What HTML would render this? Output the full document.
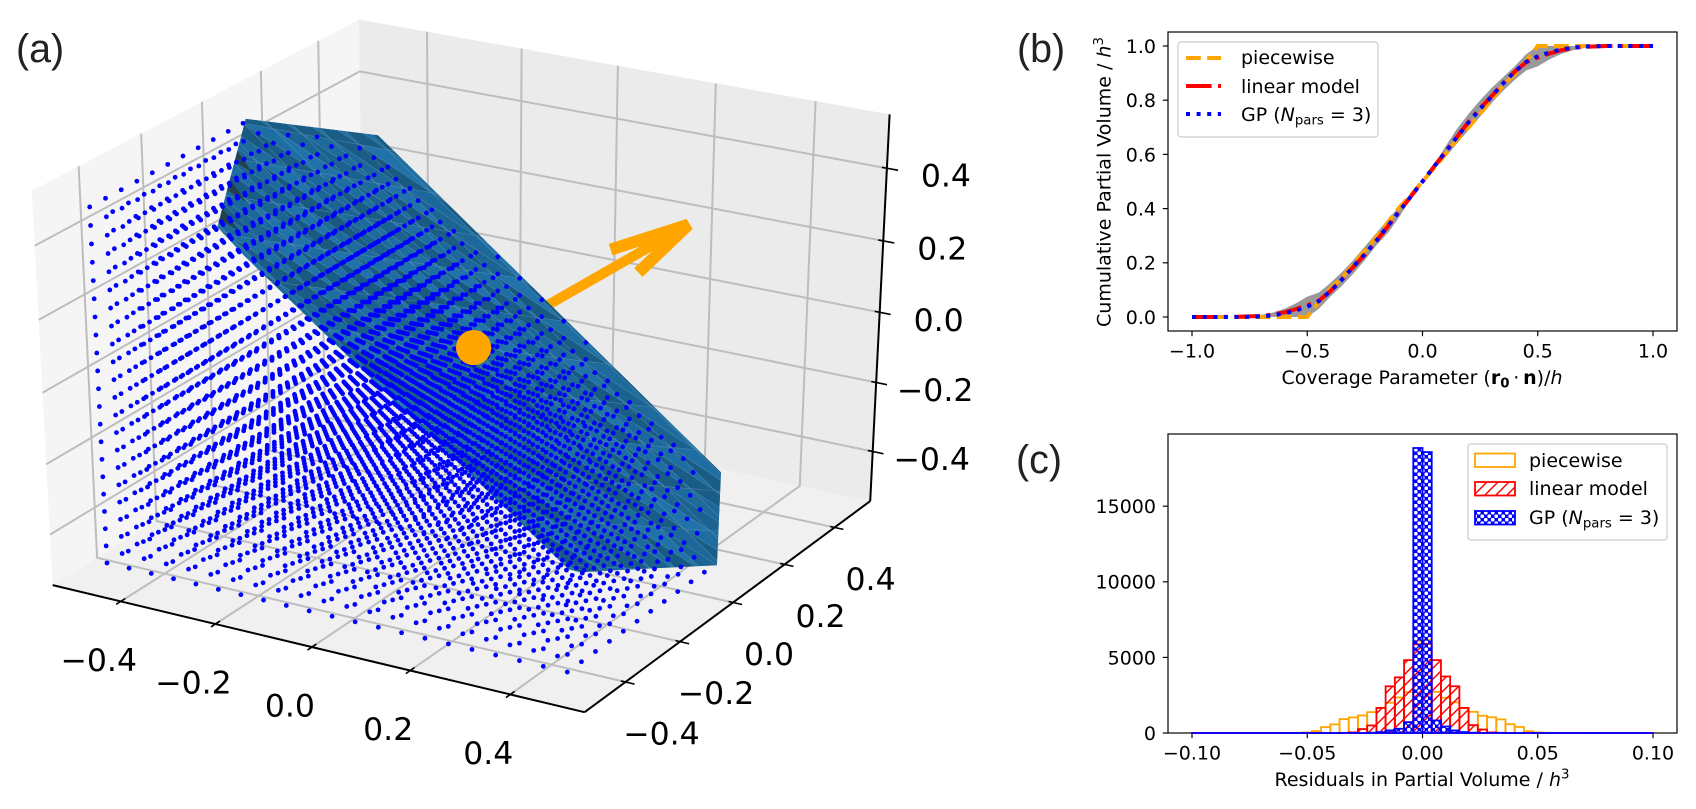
<!DOCTYPE html>
<html lang="en">
<head>
<meta charset="utf-8">
<title>Partial volume figure</title>
<style>
html,body{margin:0;padding:0;background:#fff;}
svg{display:block;}
text{font-family:"DejaVu Sans","Liberation Sans",sans-serif;fill:#000;}
.panel-label{font-family:"Liberation Sans",sans-serif;font-size:39.4px;fill:#222;}
.lab{font-size:19px;}
.leg{font-size:19px;}
</style>
</head>
<body>
<svg id="fig" xmlns="http://www.w3.org/2000/svg" width="1696" height="809" viewBox="0 0 1696 809">
  <defs>
    <pattern id="hatch-red" patternUnits="userSpaceOnUse" width="11" height="11">
      <path d="M-2,13 L13,-2 M-2,2 L2,-2 M9,13 L13,9" stroke="#ff0000" stroke-width="1.5" fill="none"/>
    </pattern>
    <pattern id="hatch-blue" patternUnits="userSpaceOnUse" width="7" height="7">
      <path fill="#0000ff" fill-rule="evenodd" d="M0,0H7V7H0Z M3.65,1.75a1.9,1.9 0 1,0 -3.8,0a1.9,1.9 0 1,0 3.8,0Z M7.15,5.25a1.9,1.9 0 1,0 -3.8,0a1.9,1.9 0 1,0 3.8,0Z"/>
    </pattern>
    <clipPath id="surface-clip"><polygon id="surface-clip-poly" points="0,0"/></clipPath>
  </defs>
  <rect width="1696" height="809" fill="#fff"/>
  <g id="panel-a"></g>
  <g id="panel-b"></g>
  <g id="panel-c"></g>

  <text class="panel-label" x="16" y="62">(a)</text>
  <text class="panel-label" x="1017" y="62">(b)</text>
  <text class="panel-label" x="1016" y="473">(c)</text>

  <text class="lab" x="1422" y="384" text-anchor="middle">Coverage Parameter (<tspan font-weight="bold">r</tspan><tspan font-weight="bold" font-size="13.3" dy="3.5">0</tspan><tspan dy="-3.5">&#8201;·&#8201;</tspan><tspan font-weight="bold">n</tspan>)/<tspan font-style="italic">h</tspan></text>
  <text class="lab" x="1110.6" y="182" text-anchor="middle" transform="rotate(-90 1110.6 182)">Cumulative Partial Volume / <tspan font-style="italic">h</tspan><tspan font-size="13.3" dy="-7.5">3</tspan></text>
  <text class="lab" x="1422" y="786" text-anchor="middle">Residuals in Partial Volume / <tspan font-style="italic">h</tspan><tspan font-size="13.3" dy="-7.5">3</tspan></text>

  <g id="legend-b">
    <rect x="1178" y="42" width="200" height="95" rx="3" fill="#fff" fill-opacity="0.8" stroke="#cccccc" stroke-width="1.2"/>
    <line x1="1186" y1="58" x2="1221" y2="58" stroke="#ffa500" stroke-width="4" stroke-dasharray="14.8 6.4"/>
    <text class="leg" x="1241" y="64">piecewise</text>
    <line x1="1186" y1="86" x2="1221" y2="86" stroke="#ff0000" stroke-width="4" stroke-dasharray="25.6 6.4 4 6.4"/>
    <text class="leg" x="1241" y="93">linear model</text>
    <line x1="1186" y1="114" x2="1221" y2="114" stroke="#0000ff" stroke-width="4" stroke-dasharray="4 6.6"/>
    <text class="leg" x="1241" y="121">GP (<tspan font-style="italic">N</tspan><tspan font-size="13.3" dy="3.5">pars</tspan><tspan dy="-3.5"> = 3)</tspan></text>
  </g>

  <g id="legend-c">
    <rect x="1468" y="444" width="199" height="96" rx="3" fill="#fff" fill-opacity="0.8" stroke="#cccccc" stroke-width="1.2"/>
    <rect x="1475" y="453.5" width="40" height="13.5" fill="none" stroke="#ffa500" stroke-width="1.8"/>
    <text class="leg" x="1529" y="467">piecewise</text>
    <rect x="1475" y="482" width="40" height="13.5" fill="url(#hatch-red)" stroke="#ff0000" stroke-width="1.8"/>
    <text class="leg" x="1529" y="495">linear model</text>
    <rect x="1475" y="511" width="40" height="13.5" fill="url(#hatch-blue)" stroke="#0000ff" stroke-width="1.8"/>
    <text class="leg" x="1529" y="524">GP (<tspan font-style="italic">N</tspan><tspan font-size="13.3" dy="3.5">pars</tspan><tspan dy="-3.5"> = 3)</tspan></text>
  </g>
</svg>

<script>
/* ---------- panel (a) data ---------- */
const latticeCoords = [-0.47619,-0.42857,-0.38095,-0.33333,-0.28571,-0.2381,-0.19048,-0.14286,-0.09524,-0.04762,0,0.04762,0.09524,0.14286,0.19048,0.2381,0.28571,0.33333,0.38095,0.42857,0.47619];
const planeNormal = [1, 0.6, 1];
const arrowVector = [0.315, 0.205, 0.31];
const surfaceOutlineXY = [[-0.489,0.028],[-0.5115,0.499],[0.24,0.484],[0.459,0.077],[0.484,-0.36],[0.49,-0.46],[0.485,-0.49],[-0.145,-0.498],[-0.206,-0.488]];
const notchFractions = [0.36,0.62,0.88];
const axisTicks3d = [-0.4,-0.2,0,0.2,0.4];
const axisTickLabels3d = ["\u22120.4","\u22120.2","0.0","0.2","0.4"];
const facetShades = ["#1f6ea2","#1b6494","#1d6a9b","#195c86","#2072a8","#1b6290","#1d689a","#185a82"];

/* ---------- panel (b) data ---------- */
const coverageX = [-1,-0.9,-0.8,-0.7,-0.65,-0.6,-0.55,-0.5,-0.45,-0.4,-0.35,-0.3,-0.25,-0.2,-0.15,-0.1,-0.05,0,0.05,0.1,0.15,0.2,0.25,0.3,0.35,0.4,0.45,0.5,0.55,0.6,0.65,0.7,0.8,0.9,1];
const piecewiseY = [0,0,0,0,0,0,0,0,0.055,0.105,0.145,0.195,0.245,0.295,0.35,0.405,0.45,0.5,0.55,0.6,0.655,0.7,0.75,0.8,0.855,0.895,0.945,1,1,1,1,1,1,1,1];
const linearY = [0,0,0.001,0.004,0.009,0.017,0.029,0.043,0.06,0.095,0.138,0.185,0.23,0.28,0.335,0.39,0.445,0.5,0.555,0.61,0.665,0.72,0.77,0.815,0.862,0.905,0.94,0.957,0.972,0.984,0.992,0.997,1,1,1];
const gpY = [0,0,0,0.002,0.006,0.013,0.024,0.038,0.058,0.095,0.138,0.186,0.232,0.282,0.336,0.391,0.445,0.5,0.555,0.609,0.664,0.718,0.768,0.814,0.862,0.905,0.942,0.962,0.976,0.987,0.994,0.998,1,1,1];
const bandUpperY = [0,0,0.001,0.008,0.016,0.03,0.05,0.075,0.09,0.125,0.165,0.21,0.26,0.31,0.36,0.41,0.455,0.5,0.56,0.63,0.695,0.75,0.8,0.845,0.885,0.925,0.97,1,1,1,1,1,1,1,1];
const bandLowerY = [0,0,0,0,0,0,0,0,0.03,0.075,0.115,0.16,0.21,0.265,0.31,0.37,0.44,0.5,0.545,0.59,0.64,0.69,0.74,0.79,0.835,0.875,0.91,0.925,0.95,0.97,0.984,0.992,0.999,1,1];
const bTicksX = [-1,-0.5,0,0.5,1];
const bTickLabelsX = ["\u22121.0","\u22120.5","0.0","0.5","1.0"];
const bTicksY = [0,0.2,0.4,0.6,0.8,1];
const bTickLabelsY = ["0.0","0.2","0.4","0.6","0.8","1.0"];

/* ---------- panel (c) data ---------- */
const histBinStart = -0.1;
const histBinWidth = 0.004;
const piecewiseCounts = [0,0,0,0,0,0,0,0,0,0,10,15,40,130,390,570,920,1030,1160,1380,1660,2000,2350,2700,6100,6150,2720,2330,2020,1640,1400,1140,1040,900,580,400,120,40,15,5,0,0,0,0,0,0,0,0,0,0];
const linearCounts = [0,0,0,0,0,0,0,0,0,0,0,0,0,0,0,0,10,40,260,500,1660,3090,3680,4820,5870,5900,4820,3740,3090,1660,520,230,40,10,0,0,0,0,0,0,0,0,0,0,0,0,0,0,0,0];
const gpCounts = [0,0,0,0,0,0,0,0,0,0,0,0,0,0,0,0,0,0,0,20,60,170,280,720,18850,18580,830,430,170,60,20,0,0,0,0,0,0,0,0,0,0,0,0,0,0,0,0,0,0,0];
const cTicksX = [-0.1,-0.05,0,0.05,0.1];
const cTickLabelsX = ["\u22120.10","\u22120.05","0.00","0.05","0.10"];
const cTicksY = [0,5000,10000,15000];
const cTickLabelsY = ["0","5000","10000","15000"];

const NS = "http://www.w3.org/2000/svg";
function mk(tag, parent, attrs){
  const e = document.createElementNS(NS, tag);
  for (const k in attrs) e.setAttribute(k, attrs[k]);
  parent.appendChild(e);
  return e;
}
function fmt(p){ return p.map(q=>q[0].toFixed(2)+","+q[1].toFixed(2)).join(" "); }

/* ---------- 3D projections fitted to the reference ---------- */
const L = 0.546;
const E = 0.47619;
const frameCalib = [
 [-L,-L,-L,53,584],[L,-L,-L,583,712],[L,L,-L,868,499],[L,L,L,888,116],[-L,L,L,360,18],[-L,-L,L,32,193],
 [-0.4,-L,-L,120,602],[-0.2,-L,-L,215,624],[0,-L,-L,312,647],[0.2,-L,-L,409,671],[0.4,-L,-L,509,694],
 [L,-0.4,-L,628,682],[L,-0.2,-L,682,641],[L,0,-L,735,602],[L,0.2,-L,784,563],[L,0.4,-L,837,526],
 [L,L,-0.4,872,457],[L,L,-0.2,875,386],[L,L,0,880,314],[L,L,0.2,883,239],[L,L,0.4,888,164]
];
const latticeCalib = [
 [-E,-E,-E,107,563],[E,-E,-E,568,672],[-E,-E,E,89,207],[E,0,-E,703,572],[-E,0,E,243,123],[0,0,0,475,348]
];
function lsq(rows){
  const N = rows[0][0].length, A = [], B = [];
  for (let i=0;i<N;i++){ A.push(new Array(N).fill(0)); B.push(0); }
  rows.forEach(rw=>{
    const r=rw[0], v=rw[1];
    for (let i=0;i<N;i++){ B[i]+=r[i]*v; for (let j=0;j<N;j++) A[i][j]+=r[i]*r[j]; }
  });
  for (let i=0;i<N;i++){
    let m=i;
    for (let r=i+1;r<N;r++) if (Math.abs(A[r][i])>Math.abs(A[m][i])) m=r;
    [A[i],A[m]]=[A[m],A[i]]; [B[i],B[m]]=[B[m],B[i]];
    for (let r=i+1;r<N;r++){
      const f=A[r][i]/A[i][i];
      for (let j=i;j<N;j++) A[r][j]-=f*A[i][j];
      B[r]-=f*B[i];
    }
  }
  const s=new Array(N).fill(0);
  for (let i=N-1;i>=0;i--){
    let t=B[i];
    for (let j=i+1;j<N;j++) t-=A[i][j]*s[j];
    s[i]=t/A[i][i];
  }
  return s;
}
const PF = (function(){
  const rows=[];
  frameCalib.forEach(c=>{
    const [x,y,z,u,v]=c;
    rows.push([[x,y,z,1,0,0,0,0,-u*x,-u*y,-u*z],u]);
    rows.push([[0,0,0,0,x,y,z,1,-v*x,-v*y,-v*z],v]);
  });
  return lsq(rows);
})();
const PL = (function(){
  const ru=[], rv=[];
  latticeCalib.forEach(c=>{
    const [x,y,z,u,v]=c;
    const w=PF[8]*x+PF[9]*y+PF[10]*z+1;
    ru.push([[x,y,z,1],u*w]);
    rv.push([[x,y,z,1],v*w]);
  });
  return lsq(ru).concat(lsq(rv),[PF[8],PF[9],PF[10]]);
})();
function applyP(P,x,y,z){
  const w=P[8]*x+P[9]*y+P[10]*z+1;
  return [(P[0]*x+P[1]*y+P[2]*z+P[3])/w,(P[4]*x+P[5]*y+P[6]*z+P[7])/w];
}
const proj = (x,y,z)=>applyP(PF,x,y,z);
const projData = (x,y,z)=>applyP(PL,x,y,z);

/* ---------- panel (a) ---------- */
(function(){
  const g = document.getElementById("panel-a");
  const paneLeft = mk("polygon", g, {points:fmt([proj(-L,-L,-L),proj(-L,L,-L),proj(-L,L,L),proj(-L,-L,L)]),fill:"#f5f5f5"});
  
  
  const paneBack = mk("polygon", g, {points:fmt([proj(-L,L,-L),proj(L,L,-L),proj(L,L,L),proj(-L,L,L)]),fill:"#ebebeb"});
  
  
  const paneFloor = mk("polygon", g, {points:fmt([proj(-L,-L,-L),proj(L,-L,-L),proj(L,L,-L),proj(-L,L,-L)]),fill:"#f0f0f0"});
  
  

  const gridStyle = {fill:"none",stroke:"#bdbdbd","stroke-width":2};
  axisTicks3d.forEach(t=>{
    const a = mk("polyline", g, Object.assign({points:fmt([proj(t,-L,-L),proj(t,L,-L),proj(t,L,L)])},gridStyle));
    
    
    const b = mk("polyline", g, Object.assign({points:fmt([proj(L,t,-L),proj(-L,t,-L),proj(-L,t,L)])},gridStyle));
    
    
    const c = mk("polyline", g, Object.assign({points:fmt([proj(-L,-L,t),proj(-L,L,t),proj(L,L,t)])},gridStyle));
    
    
  });

  const axisStyle = {fill:"none",stroke:"#000","stroke-width":2};
  const ax = mk("polyline", g, Object.assign({points:fmt([proj(-L,-L,-L),proj(L,-L,-L)])},axisStyle));
  
  
  const ay = mk("polyline", g, Object.assign({points:fmt([proj(L,-L,-L),proj(L,L,-L)])},axisStyle));
  
  
  const az = mk("polyline", g, Object.assign({points:fmt([proj(L,L,-L),proj(L,L,L)])},axisStyle));
  
  

  const tickStyle = {fill:"none",stroke:"#000","stroke-width":1.6};
  const labelStyle = {"font-size":"31.5px","text-anchor":"middle"};
  axisTicks3d.forEach((t,i)=>{
    const xt = mk("polyline", g, Object.assign({points:fmt([proj(t,-L+0.015,-L),proj(t,-L-0.015,-L)])},tickStyle));
    
    
    const yt = mk("polyline", g, Object.assign({points:fmt([proj(L-0.009,t,-L),proj(L+0.018,t,-L)])},tickStyle));
    
    
    const zt = mk("polyline", g, Object.assign({points:fmt([proj(L-0.01,L,t),proj(L+0.022,L,t)])},tickStyle));
    
    

    const px = proj(t,-L,-L), py = proj(L,t,-L), pz = proj(L,L,t);
    const xl = mk("text", g, Object.assign({x:px[0]-22,y:px[1]+58+11.5},labelStyle));
    xl.textContent = axisTickLabels3d[i];
    
    
    const yl = mk("text", g, Object.assign({x:py[0]+36,y:py[1]+51+11.5},labelStyle));
    yl.textContent = axisTickLabels3d[i];
    
    
    const zl = mk("text", g, Object.assign({x:pz[0]+59,y:pz[1]+7+11.5},labelStyle));
    zl.textContent = axisTickLabels3d[i];
    
    
  });

  /* arrow along the plane normal (drawn below the surface) */
  const c0 = projData(0,0,0), tip = projData(arrowVector[0],arrowVector[1],arrowVector[2]);
  const dx = c0[0]-tip[0], dy = c0[1]-tip[1];
  function headEnd(deg,k){
    const r = deg*Math.PI/180;
    return [tip[0]+k*(dx*Math.cos(r)-dy*Math.sin(r)), tip[1]+k*(dx*Math.sin(r)+dy*Math.cos(r))];
  }
  const shaft = mk("polyline", g, {points:fmt([c0,tip]),fill:"none",stroke:"#ffa500","stroke-width":10});
  
  
  const head = mk("polyline", g, {points:fmt([headEnd(12,0.33),tip,headEnd(-14,0.28)]),fill:"none",stroke:"#ffa500","stroke-width":12,"stroke-linejoin":"bevel"});
  
  

  /* cutting plane surface */
  const [nx,ny,nz] = planeNormal;
  const zOn = (x,y)=>-(nx*x+ny*y)/nz;
  const pOn = (x,y)=>projData(x,y,zOn(x,y));
  const vp = surfaceOutlineXY.map(q=>pOn(q[0],q[1]));
  document.getElementById("surface-clip-poly").setAttribute("points",fmt(vp));

  const surf = mk("g", g, {"clip-path":"url(#surface-clip)"});
  
  
  mk("polygon", surf, {points:fmt(vp),fill:"#1b6391"});
  const step = 2*(latticeCoords[1]-latticeCoords[0]);
  const ext = [];
  for (let v=latticeCoords[0]-2*step; v<=latticeCoords[20]+2*step+1e-9; v+=step) ext.push(v);
  for (let i=0;i<ext.length-1;i++){
    for (let j=0;j<ext.length-1;j++){
      const x0=ext[i],x1=ext[i+1],y0=ext[j],y1=ext[j+1];
      const a=pOn(x0,y0),b=pOn(x1,y0),c=pOn(x1,y1),d=pOn(x0,y1);
      [[a,b,c],[a,c,d]].forEach((tri,k)=>{
        const shade=facetShades[(i*i*3+j*7+k*5+i*j)%facetShades.length];
        const f = mk("polygon", surf, {points:fmt(tri),fill:shade,stroke:"#8cb8d0","stroke-width":0.6,"stroke-opacity":0.3});
        
        
      });
    }
  }
  const e0 = surfaceOutlineXY[0], e1 = surfaceOutlineXY[surfaceOutlineXY.length-1];
  notchFractions.forEach(fr=>{
    const ex=e0[0]+fr*(e1[0]-e0[0]), ey=e0[1]+fr*(e1[1]-e0[1]);
    const tx=0.05*(e1[0]-e0[0]), ty=0.05*(e1[1]-e0[1]);
    const n = mk("polygon", surf, {points:fmt([pOn(ex-tx,ey-ty),pOn(ex+tx,ey+ty),pOn(ex+0.035,ey)]),fill:"#23424f"});
    
    
  });

  /* lattice points on the negative side of the plane */
  const pts = mk("g", g, {fill:"#0000ff"});
  
  
  latticeCoords.forEach(x=>latticeCoords.forEach(y=>latticeCoords.forEach(z=>{
    if (nx*x+ny*y+nz*z<=1e-9){
      const p = projData(x,y,z);
      const dot = mk("circle", pts, {cx:p[0].toFixed(2),cy:p[1].toFixed(2),r:2.4});
      
      
    }
  })));

  const centre = mk("circle", g, {cx:c0[0],cy:c0[1],r:17.6,fill:"#ffa500"});
  
  
})();

/* ---------- shared 2D axes ---------- */
function frame(g,left,top,right,bottom,sx,sy,tx,tlx,ty,tly,prefix){
  const tickY = bottom, tickX = left;
  tx.forEach((t,i)=>{
    const x = sx(t);
    const tk = mk("line", g, {x1:x,x2:x,y1:tickY,y2:tickY+5.2,stroke:"#000","stroke-width":1.18});
    
    
    const lb = mk("text", g, {x:x,y:bottom+26.5,"text-anchor":"middle","font-size":"19px"});
    lb.textContent = tlx[i];
    
    
  });
  ty.forEach((t,i)=>{
    const y = sy(t);
    const tk = mk("line", g, {x1:tickX-5.2,x2:tickX,y1:y,y2:y,stroke:"#000","stroke-width":1.18});
    
    
    const lb = mk("text", g, {x:left-12,y:y+6.9,"text-anchor":"end","font-size":"19px"});
    lb.textContent = tly[i];
    
    
  });
  const box = mk("rect", g, {x:left,y:top,width:right-left,height:bottom-top,fill:"none",stroke:"#000","stroke-width":1.18});
  
  
}

/* ---------- panel (b) ---------- */
(function(){
  const g = document.getElementById("panel-b");
  const left=1168,right=1677,top=32,bottom=331;
  const sx = v=>1422.5+v*230.5;
  const sy = v=>317-v*271;
  const upper = coverageX.map((x,i)=>[sx(x),sy(bandUpperY[i])]);
  const lower = coverageX.map((x,i)=>[sx(x),sy(bandLowerY[i])]).reverse();
  const band = mk("polygon", g, {points:fmt(upper.concat(lower)),fill:"#999999"});
  
  
  const line = (ys,col,dash,name)=>{
    const l = mk("polyline", g, {points:fmt(coverageX.map((x,i)=>[sx(x),sy(ys[i])])),fill:"none",stroke:col,"stroke-width":4,"stroke-dasharray":dash});
    
    
  };
  line(piecewiseY,"#ffa500","14.8 6.4","piecewise-line");
  line(linearY,"#ff0000","25.6 6.4 4 6.4","linear-model-line");
  line(gpY,"#0000ff","4 6.6","gp-line");
  frame(g,left,top,right,bottom,sx,sy,bTicksX,bTickLabelsX,bTicksY,bTickLabelsY,"panel-b");
})();

/* ---------- panel (c) ---------- */
(function(){
  const g = document.getElementById("panel-c");
  const left=1168,right=1677,top=434,bottom=733;
  const sx = v=>1422.5+v*2305;
  const sy = v=>733-v*0.01512;
  frame(g,left,top,right,bottom,sx,sy,cTicksX,cTickLabelsX,cTicksY,cTickLabelsY,"panel-c");
  const bars = (counts,stroke,fill,name)=>{
    counts.forEach((c,i)=>{
      const x0 = sx(histBinStart+i*histBinWidth), x1 = sx(histBinStart+(i+1)*histBinWidth);
      const r = mk("rect", g, {x:x0,y:sy(c),width:x1-x0,height:Math.max(sy(0)-sy(c),0.01),fill:fill,stroke:stroke,"stroke-width":1.8});
      
      
    });
  };
  bars(piecewiseCounts,"#ffa500","none","piecewise-bar");
  bars(linearCounts,"#ff0000","url(#hatch-red)","linear-model-bar");
  bars(gpCounts,"#0000ff","url(#hatch-blue)","gp-bar");
})();
</script>
</body>
</html>
